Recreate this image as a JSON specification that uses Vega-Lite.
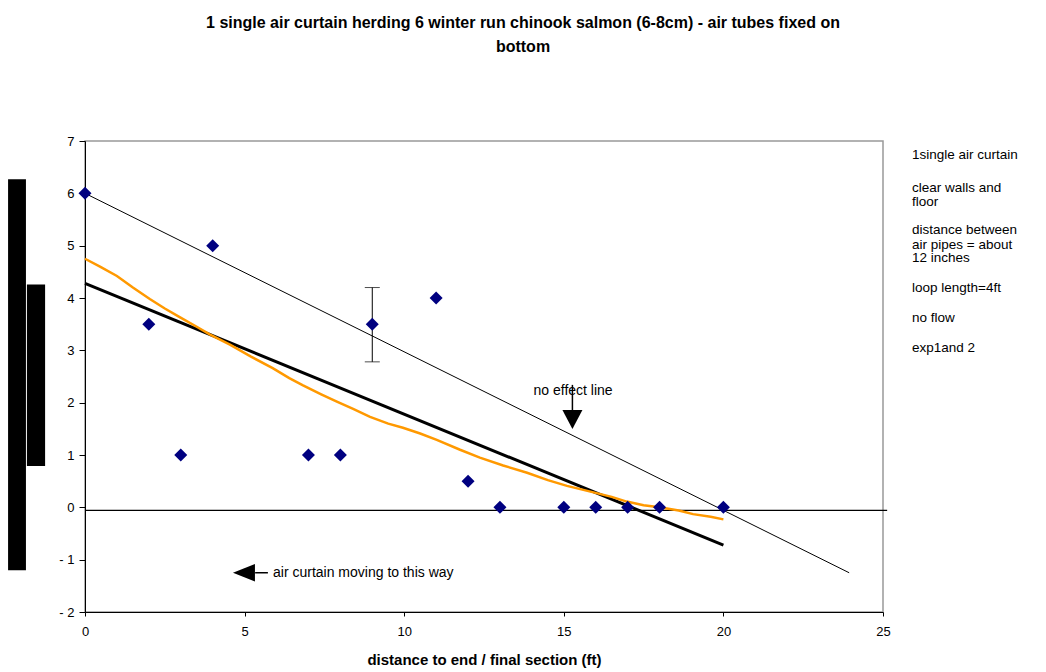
{
  "$schema": "https://vega.github.io/schema/vega-lite/v6.json",
  "width": 798,
  "height": 471,
  "autosize": "none",
  "padding": {"left": 85, "top": 141, "right": 163, "bottom": 60},
  "background": "white",
  "config": {
    "font": "Liberation Sans",
    "view": {"stroke": "#999999", "strokeWidth": 1.5},
    "axis": {"grid": false, "domainColor": "#000000", "tickColor": "#000000", "labelColor": "#000000", "labelFont": "Liberation Sans", "labelFontSize": 13, "titleFont": "Liberation Sans", "titleColor": "#000000", "labelFlush": false}
  },
  "title": {
    "text": ["1 single air curtain herding 6 winter run chinook salmon (6-8cm) - air tubes fixed on", "bottom"],
    "font": "Liberation Sans",
    "fontSize": 16,
    "fontWeight": "bold",
    "lineHeight": 24,
    "anchor": "middle",
    "dx": 39,
    "offset": 80,
    "color": "#000000"
  },
  "datasets": {
    "bars": [
      {"x": -2.41, "x2": -1.85, "y": 6.27, "y2": -1.2},
      {"x": -1.82, "x2": -1.25, "y": 4.26, "y2": 0.79}
    ],
    "baseline": [{"x": 0, "y": -0.06}, {"x": 25.13, "y": -0.06}],
    "noeffect": [{"x": 0, "y": 6}, {"x": 23.94, "y": -1.25}],
    "trend": [{"x": 0, "y": 4.28}, {"x": 20, "y": -0.72}],
    "orange": [
      {"x": 0, "y": 4.75}, {"x": 0.47, "y": 4.6}, {"x": 1.0, "y": 4.42}, {"x": 1.5, "y": 4.2},
      {"x": 2.03, "y": 3.98}, {"x": 2.5, "y": 3.8}, {"x": 2.98, "y": 3.63}, {"x": 3.5, "y": 3.45},
      {"x": 3.92, "y": 3.3}, {"x": 4.54, "y": 3.11}, {"x": 5.2, "y": 2.88}, {"x": 5.88, "y": 2.66},
      {"x": 6.4, "y": 2.47}, {"x": 6.83, "y": 2.33}, {"x": 7.4, "y": 2.16}, {"x": 7.89, "y": 2.02},
      {"x": 8.4, "y": 1.88}, {"x": 8.93, "y": 1.73}, {"x": 9.5, "y": 1.6}, {"x": 9.96, "y": 1.52},
      {"x": 10.5, "y": 1.41}, {"x": 11.02, "y": 1.29}, {"x": 11.75, "y": 1.1}, {"x": 12.37, "y": 0.95},
      {"x": 13.1, "y": 0.8}, {"x": 13.85, "y": 0.66}, {"x": 14.5, "y": 0.52}, {"x": 15.1, "y": 0.41},
      {"x": 15.9, "y": 0.29}, {"x": 16.5, "y": 0.2}, {"x": 16.97, "y": 0.11}, {"x": 17.5, "y": 0.04},
      {"x": 18.0, "y": 0.0}, {"x": 18.6, "y": -0.06}, {"x": 19.05, "y": -0.13}, {"x": 19.6, "y": -0.18},
      {"x": 20.0, "y": -0.23}
    ],
    "points": [
      {"x": 0, "y": 6}, {"x": 2, "y": 3.5}, {"x": 3, "y": 1}, {"x": 4, "y": 5},
      {"x": 7, "y": 1}, {"x": 8, "y": 1}, {"x": 9, "y": 3.5}, {"x": 11, "y": 4},
      {"x": 12, "y": 0.5}, {"x": 13, "y": 0}, {"x": 15, "y": 0}, {"x": 16, "y": 0},
      {"x": 17, "y": 0}, {"x": 18, "y": 0}, {"x": 20, "y": 0}
    ],
    "errbar": [{"x": 9, "y": 2.78, "y2": 4.2}],
    "errcaps": [{"x": 9, "y": 2.78}, {"x": 9, "y": 4.2}],
    "shafts": [
      {"x": 15.27, "x2": 15.27, "y": 2.34, "y2": 1.86},
      {"x": 5.33, "x2": 5.73, "y": -1.25, "y2": -1.25}
    ],
    "downhead": [{"x": 15.27, "y": 1.68}],
    "lefthead": [{"x": 4.98, "y": -1.25}],
    "annot": [
      {"x": 15.29, "y": 2.23, "text": "no effect line"}
    ],
    "annot2": [
      {"x": 5.89, "y": -1.25, "text": "air curtain moving to this way"}
    ],
    "side": [
      {"x": 25.91, "y": 6.73, "text": "1single air curtain"},
      {"x": 25.91, "y": 6.1, "text": "clear walls and"},
      {"x": 25.91, "y": 5.84, "text": "floor"},
      {"x": 25.91, "y": 5.3, "text": "distance between"},
      {"x": 25.91, "y": 5.01, "text": "air pipes = about"},
      {"x": 25.91, "y": 4.76, "text": "12 inches"},
      {"x": 25.91, "y": 4.19, "text": "loop length=4ft"},
      {"x": 25.91, "y": 3.61, "text": "no flow"},
      {"x": 25.91, "y": 3.04, "text": "exp1and 2"}
    ]
  },
  "encoding": {
    "x": {
      "field": "x", "type": "quantitative",
      "scale": {"domain": [0, 25], "nice": false, "zero": false},
      "axis": {"values": [0, 5, 10, 15, 20, 25], "title": "distance to end / final section (ft)", "titleFontSize": 15, "titleFontWeight": "bold", "tickSize": 4, "labelPadding": 9, "titlePadding": 14}
    },
    "y": {
      "field": "y", "type": "quantitative",
      "scale": {"domain": [-2, 7], "nice": false, "zero": false},
      "axis": {"values": [-2, -1, 0, 1, 2, 3, 4, 5, 6, 7], "title": null, "tickSize": 6, "labelPadding": 5, "labelExpr": "datum.value < 0 ? '- ' + abs(datum.value) : datum.label"}
    }
  },
  "layer": [
    {
      "data": {"name": "bars"},
      "mark": {"type": "rect", "color": "#000000"},
      "encoding": {"x2": {"field": "x2"}, "y2": {"field": "y2"}}
    },
    {
      "data": {"name": "baseline"},
      "mark": {"type": "line", "color": "#000000", "strokeWidth": 1.2}
    },
    {
      "data": {"name": "noeffect"},
      "mark": {"type": "line", "color": "#000000", "strokeWidth": 1}
    },
    {
      "data": {"name": "trend"},
      "mark": {"type": "line", "color": "#000000", "strokeWidth": 3}
    },
    {
      "data": {"name": "orange"},
      "mark": {"type": "line", "color": "#FF9900", "strokeWidth": 2.5}
    },
    {
      "data": {"name": "errbar"},
      "mark": {"type": "rule", "color": "#000000", "strokeWidth": 1},
      "encoding": {"y2": {"field": "y2"}}
    },
    {
      "data": {"name": "errcaps"},
      "mark": {"type": "tick", "orient": "horizontal", "size": 15, "thickness": 1, "color": "#000000"}
    },
    {
      "data": {"name": "points"},
      "mark": {"type": "point", "shape": "diamond", "filled": true, "size": 169, "color": "#000080", "opacity": 1}
    },
    {
      "data": {"name": "shafts"},
      "mark": {"type": "rule", "color": "#000000", "strokeWidth": 1.5},
      "encoding": {"x2": {"field": "x2"}, "y2": {"field": "y2"}}
    },
    {
      "data": {"name": "downhead"},
      "mark": {"type": "point", "shape": "M-1,-0.95L1,-0.95L0,0.95Z", "filled": true, "size": 400, "color": "#000000", "opacity": 1}
    },
    {
      "data": {"name": "lefthead"},
      "mark": {"type": "point", "shape": "M-1,0L1,-0.8L1,0.8Z", "filled": true, "size": 484, "color": "#000000", "opacity": 1}
    },
    {
      "data": {"name": "annot"},
      "mark": {"type": "text", "align": "center", "baseline": "middle", "fontSize": 14, "font": "Liberation Sans", "color": "#000000"},
      "encoding": {"text": {"field": "text"}}
    },
    {
      "data": {"name": "annot2"},
      "mark": {"type": "text", "align": "left", "baseline": "middle", "fontSize": 14, "font": "Liberation Sans", "color": "#000000"},
      "encoding": {"text": {"field": "text"}}
    },
    {
      "data": {"name": "side"},
      "mark": {"type": "text", "align": "left", "baseline": "middle", "fontSize": 13.5, "font": "Liberation Sans", "color": "#000000"},
      "encoding": {"text": {"field": "text"}}
    }
  ]
}
